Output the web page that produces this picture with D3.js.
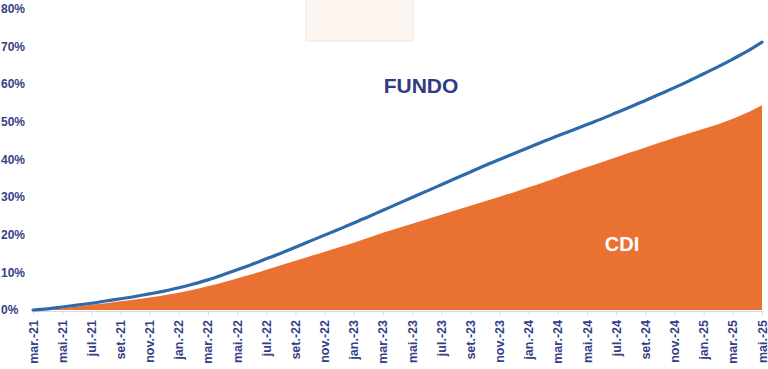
<!DOCTYPE html>
<html>
<head>
<meta charset="utf-8">
<script src="https://cdn.jsdelivr.net/npm/d3@7"></script>
<style>
  body { margin: 0; background: #fff; }
  svg { display: block; }
  .tick-label { font-family: "Liberation Sans", Arial, sans-serif; font-weight: bold; font-size: 12px; fill: #343f86; }
  .x-label { font-size: 12.5px; }
</style>
</head>
<body>
<div id="chart"></div>
<script>
// month labels, mar.-21 .. mai.-25
const monthAbbr = ["jan.", "fev.", "mar.", "abr.", "mai.", "jun.", "jul.", "ago.", "set.", "out.", "nov.", "dez."];
const months = [];
for (let y = 2021, m = 2; y < 2025 || m <= 4; ) {
  months.push(monthAbbr[m] + "-" + String(y).slice(2));
  m++;
  if (m > 11) { m = 0; y++; }
}

// cumulative return, %
const fundo = [
  0.0, 0.3, 0.8, 1.3, 1.8, 2.4, 3.0, 3.6, 4.3, 5.0,
  5.9, 6.9, 8.0, 9.3, 10.7, 12.1, 13.6, 15.1, 16.7, 18.3,
  19.9, 21.5, 23.1, 24.8, 26.5, 28.2, 29.9, 31.6, 33.3, 35.0,
  36.7, 38.4, 40.0, 41.6, 43.2, 44.8, 46.3, 47.8, 49.3, 50.8,
  52.4, 54.0, 55.7, 57.4, 59.1, 60.9, 62.8, 64.7, 66.7, 68.8,
  71.2
];
const cdi = [
  0.0, 0.1, 0.4, 0.9, 1.4, 1.8, 2.3, 2.8, 3.3, 3.9,
  4.6, 5.4, 6.3, 7.3, 8.4, 9.5, 10.7, 11.9, 13.1, 14.3,
  15.5, 16.7, 17.9, 19.2, 20.5, 21.7, 22.9, 24.1, 25.3, 26.5,
  27.7, 28.9, 30.1, 31.3, 32.6, 33.9, 35.3, 36.7, 38.0, 39.3,
  40.6, 41.9, 43.2, 44.5, 45.8, 47.0, 48.2, 49.4, 50.8, 52.5,
  54.4
];
const yTicks = [0, 10, 20, 30, 40, 50, 60, 70, 80];

const width = 768, height = 369;
const svg = d3.select("#chart").append("svg")
  .attr("width", width)
  .attr("height", height);

const x = d3.scalePoint().domain(months).range([33, 762]);
const y = d3.scaleLinear().domain([0, 80]).range([310, 9]);

// faint title box at the top
svg.append("rect")
  .attr("x", 306).attr("y", -1)
  .attr("width", 107).attr("height", 42)
  .attr("fill", "#fdf6f0")
  .attr("stroke", "#e6e6e6")
  .attr("stroke-width", 0.8);

// CDI area
const area = d3.area()
  .x((d, i) => x(months[i]))
  .y0(y(0))
  .y1(d => y(d))
  .curve(d3.curveMonotoneX);

svg.append("path")
  .datum(cdi)
  .attr("d", area)
  .attr("fill", "#e97132");

// x axis
const xTicks = months.filter((d, i) => i % 2 === 0);
const xAxis = d3.axisBottom(x)
  .tickValues(xTicks)
  .tickSize(4)
  .tickFormat("");

const gx = svg.append("g")
  .attr("transform", `translate(0,${y(0) + 1})`)
  .call(xAxis);
gx.select(".domain").attr("stroke", "#d9d9d9");
gx.selectAll(".tick line").attr("stroke", "#d9d9d9");

svg.append("g")
  .selectAll("text")
  .data(xTicks)
  .enter().append("text")
  .attr("class", "tick-label x-label")
  .attr("transform", d => `translate(${x(d) + 4.5},320) rotate(-90)`)
  .attr("text-anchor", "end")
  .text(d => d);

// y labels
svg.append("g")
  .selectAll("text")
  .data(yTicks)
  .enter().append("text")
  .attr("class", "tick-label")
  .attr("x", 1)
  .attr("y", d => y(d))
  .attr("dy", "0.35em")
  .text(d => d + "%");

// FUNDO line
const line = d3.line()
  .x((d, i) => x(months[i]))
  .y(d => y(d))
  .curve(d3.curveMonotoneX);

svg.append("path")
  .datum(fundo)
  .attr("d", line)
  .attr("fill", "none")
  .attr("stroke", "#2e6aab")
  .attr("stroke-width", 3.2)
  .attr("stroke-linecap", "round");

// series labels
svg.append("text")
  .attr("x", 421).attr("y", 93)
  .attr("text-anchor", "middle")
  .style("font-family", "'Liberation Sans', Arial, sans-serif")
  .style("font-weight", "bold")
  .style("font-size", "21px")
  .style("fill", "#2f3c84")
  .text("FUNDO");

svg.append("text")
  .attr("x", 622).attr("y", 251)
  .attr("text-anchor", "middle")
  .style("font-family", "'Liberation Sans', Arial, sans-serif")
  .style("font-weight", "bold")
  .style("font-size", "20px")
  .style("fill", "#ffffff")
  .text("CDI");
</script>
</body>
</html>
